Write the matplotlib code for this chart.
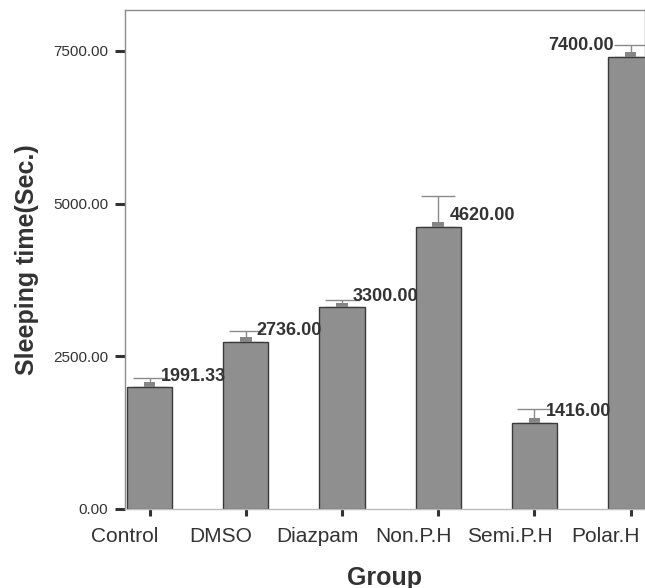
import numpy as np
import matplotlib
matplotlib.use("Agg")
import matplotlib.pyplot as plt
import matplotlib.transforms as mtransforms

groups = ["Control", "DMSO", "Diazpam", "Non.P.H", "Semi.P.H", "Polar.H"]
means = [1991.33, 2736.00, 3300.00, 4620.00, 1416.00, 7400.00]
errors = [160, 180, 130, 510, 220, 200]
yticks = [0, 2500, 5000, 7500]

plt.rcParams["font.family"] = ["Liberation Sans", "DejaVu Sans"]

fig = plt.figure(figsize=(6.45, 5.88), dpi=100)
ax = fig.add_axes([125 / 645, 1 - 509 / 588, 520 / 645, 499 / 588])

x = np.arange(len(groups))
ax.bar(x, means, width=0.47, color="#8f8f8f", edgecolor="#3a3a3a", linewidth=1.0, zorder=2)
# small marker square on top of each bar (SPSS style)
ax.bar(x, [80] * len(x), bottom=means, width=0.12, color="#868686", linewidth=0, zorder=3)
ax.errorbar(x, means, yerr=[np.zeros(len(x)), errors], fmt="none", ecolor="#8a8a8a",
            elinewidth=1.0, capsize=12, capthick=1.0, zorder=1)

for i, m in enumerate(means):
    if i == len(means) - 1:
        ax.annotate(f"{m:.2f}", (x[i], m + 185), xytext=(-12, 0), textcoords="offset points",
                    ha="right", va="center", fontsize=13, fontweight="bold", color="#333333")
    else:
        ax.annotate(f"{m:.2f}", (x[i], m + 185), xytext=(8, 0), textcoords="offset points",
                    ha="left", va="center", fontsize=13, fontweight="bold", color="#333333")

ax.set_xlim(-0.255, 5.15)
ax.set_ylim(0, 8170)
ax.set_yticks(yticks)
ax.set_yticklabels([f"{v:.2f}" for v in yticks], fontsize=11, color="#333333")
ax.set_xticks(x)
ax.set_xticklabels(groups, fontsize=15, color="#333333")
ax.tick_params(axis="y", length=7, width=2.2, color="#333333", pad=5)
ax.tick_params(axis="x", length=5, width=2.2, color="#333333", pad=8)

# the category names sit a little left of their ticks in the original
shift = mtransforms.ScaledTranslation(-25 / 100, 0, fig.dpi_scale_trans)
for lab in ax.get_xticklabels():
    lab.set_transform(lab.get_transform() + shift)

for side in ["left", "top", "right"]:
    ax.spines[side].set_color("#8c8c8c")
    ax.spines[side].set_linewidth(1.0)
ax.spines["bottom"].set_color("#bbbbbb")
ax.spines["bottom"].set_linewidth(1.0)

ax.set_xlabel("Group", fontsize=18, fontweight="bold", color="#333333", labelpad=14)
ax.set_ylabel("Sleeping time(Sec.)", fontsize=18, fontweight="bold", color="#333333", labelpad=10)

fig.savefig("out.png", dpi=100)
